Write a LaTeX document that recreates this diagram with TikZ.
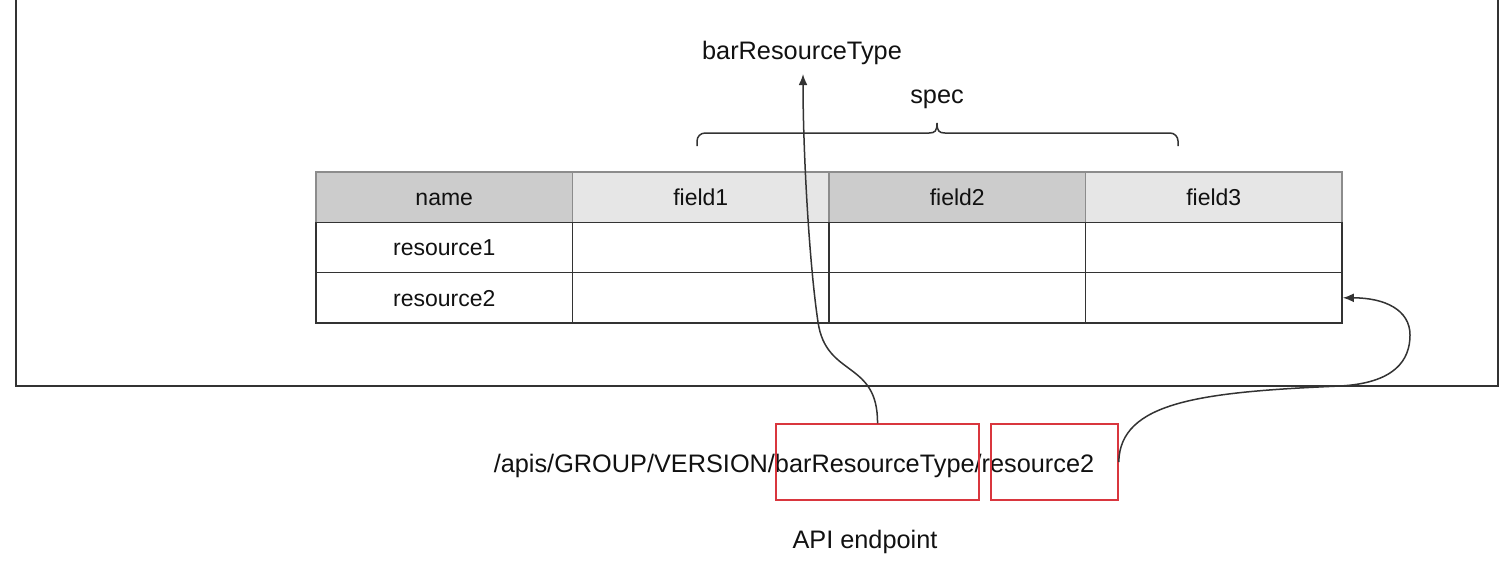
\documentclass[tikz,border=0pt]{standalone}
\usepackage{fontspec}
\setmainfont{Liberation Sans}
\usetikzlibrary{arrows.meta}
\definecolor{linecol}{HTML}{333333}
\definecolor{hdrdark}{HTML}{CCCCCC}
\definecolor{hdrlight}{HTML}{E6E6E6}
\definecolor{hdrline}{HTML}{8C8C8C}
\definecolor{boxred}{HTML}{D9363E}
\definecolor{txt}{HTML}{111111}
\begin{document}
\begin{tikzpicture}[x=0.5pt,y=-0.5pt,
  cell/.style={draw=linecol, line width=0.75pt, minimum width=128.25pt, minimum height=25.17pt, inner sep=0pt, text height=8.3pt, text depth=0pt, font=\fontsize{11.5}{13}\selectfont, text=txt},
  hdark/.style={cell, fill=hdrdark, draw=hdrline},
  hlight/.style={cell, fill=hdrlight, draw=hdrline},
  lbl/.style={font=\fontsize{12.65}{15}\selectfont, text=txt, inner sep=0pt, anchor=base},
  redbox/.style={draw=boxred, line width=0.75pt, minimum height=38pt, inner sep=0pt},
  conn/.style={draw=linecol, line width=0.75pt, -{Latex[length=5.5pt,width=4.4pt]}},
  bracestyle/.style={draw=linecol, line width=0.75pt}
]
\useasboundingbox (0,0) rectangle (1508,570);

% outer frame
\draw[linecol, line width=1pt] (16,0) -- (16,386) -- (1498,386) -- (1498,0);

% table header
\node[hdark]  (hname) at (444.25,197.2) {name};
\node[hlight] (hf1)   at (700.75,197.2) {field1};
\node[hdark]  (hf2)   at (957.25,197.2) {field2};
\node[hlight] (hf3)   at (1213.75,197.2) {field3};
% rows
\node[cell] (r1name) at (444.25,247.5) {resource1};
\node[cell] (r1f1)   at (700.75,247.5) {};
\node[cell] (r1f2)   at (957.25,247.5) {};
\node[cell] (r1f3)   at (1213.75,247.5) {};
\node[cell] (r2name) at (444.25,297.8) {resource2};
\node[cell] (r2f1)   at (700.75,297.8) {};
\node[cell] (r2f2)   at (957.25,297.8) {};
\node[cell] (r2f3)   at (1213.75,297.8) {};

% brace and spec
\draw[bracestyle, rounded corners=4pt] (697,146) -- (697,133) -- (929,133);
\draw[bracestyle] (929,133) .. controls (935,133) and (937,131) .. (937,123) .. controls (937,131) and (939,133) .. (945,133);
\draw[bracestyle, rounded corners=4pt] (945,133) -- (1178,133) -- (1178,146);
\node[lbl] (spec) at (937,103) {spec};

% labels
\node[lbl] (barlabel) at (802,59) {barResourceType};
\node[lbl] (path) at (794,472) {/apis/GROUP/VERSION/barResourceType/resource2};
\node[lbl] (apilabel) at (865,548) {API endpoint};

% red boxes
\node[redbox, minimum width=101.5pt] (b1) at (877.5,462) {};
\node[redbox, minimum width=63.5pt] (b2) at (1054.5,462) {};

% connectors
\coordinate (tipA) at (803,74);
\draw[conn] (b1.north) .. controls (878,360) and (826,378) .. (818,322)
  .. controls (809,262) and (803,150) .. (tipA);
\draw[conn] (b2.east) .. controls (1120,402) and (1200,392) .. (1340,386)
  .. controls (1395,383) and (1410,360) .. (1410,335)
  .. controls (1410,310) and (1385,297.8) .. (r2f3.east);
\end{tikzpicture}
\end{document}
